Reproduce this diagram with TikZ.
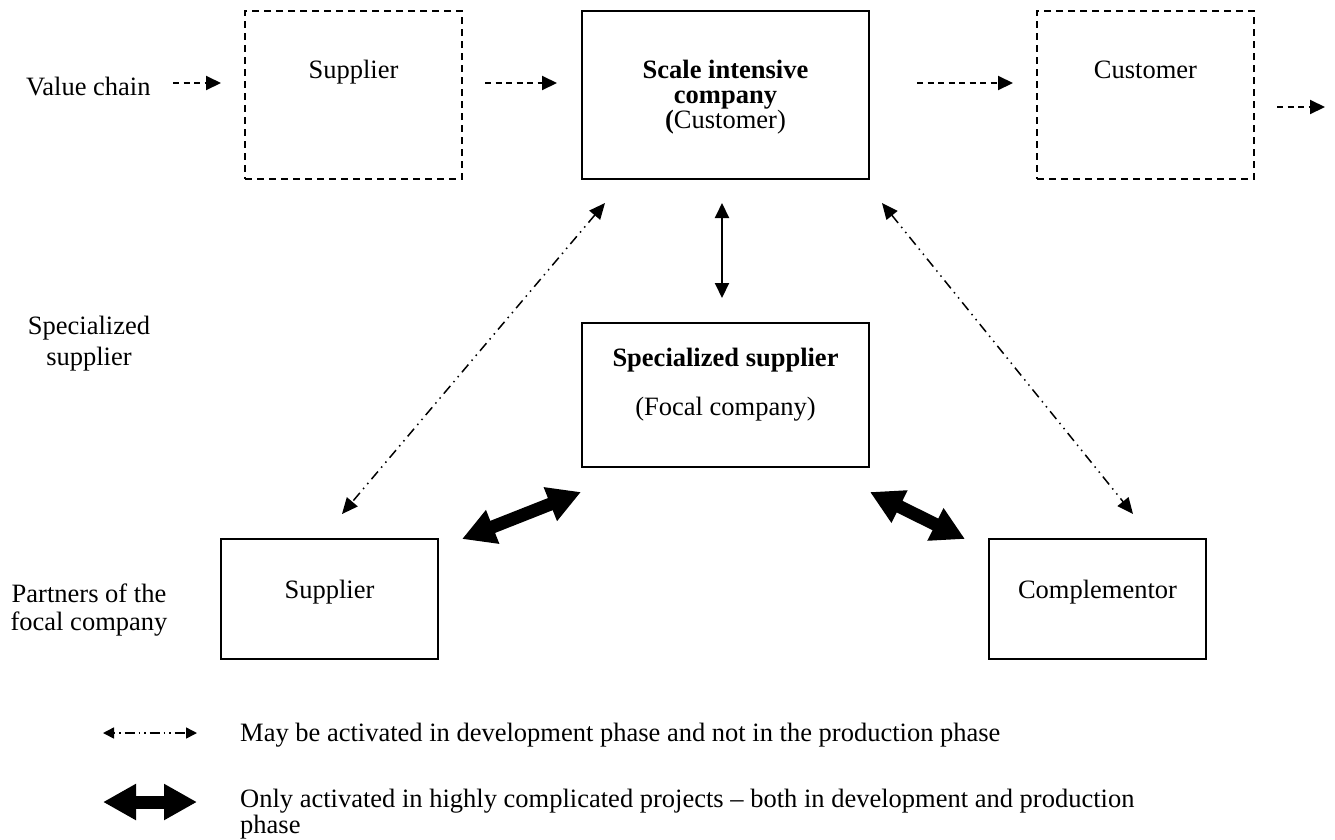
\documentclass[tikz,border=0pt]{standalone}
\usepackage{fontspec}
\setmainfont{Liberation Serif}
\usetikzlibrary{arrows.meta}
\newcommand\myfs{\fontsize{26.5pt}{30pt}\selectfont}
\begin{document}
\begin{tikzpicture}[x=1pt,y=-1pt,
  box/.style={draw, line width=2pt, inner sep=0pt},
  dbox/.style={box, dash pattern=on 7pt off 5pt},
  lbl/.style={anchor=base, inner sep=0pt, font=\myfs},
  flow/.style={line width=2pt, dash pattern=on 6pt off 4.5pt, -{Triangle[length=15pt,width=14pt]}},
  link/.style={line width=2pt, {Triangle[length=15pt,width=14pt]}-{Triangle[length=15pt,width=14pt]}},
  devlink/.style={line width=1.5pt, dash pattern=on 10pt off 5pt on 1.5pt off 5pt on 1.5pt off 5pt,
     {Triangle[length=16pt,width=14pt]}-{Triangle[length=16pt,width=14pt]}},
  strong/.style={line width=13pt, {Triangle[length=33pt,width=34pt]}-{Triangle[length=33pt,width=34pt]}}
]
\useasboundingbox (0,0) rectangle (1335,839);

% boxes
\node[dbox, minimum width=217pt, minimum height=168pt] (supT) at (353.5,95) {};
\node[box, minimum width=287pt, minimum height=168pt] (scale) at (725.5,95) {};
\node[dbox, minimum width=217pt, minimum height=168pt] (custT) at (1145.5,95) {};
\node[box, minimum width=287pt, minimum height=144pt] (spec) at (725.5,395) {};
\node[box, minimum width=217pt, minimum height=120pt] (supB) at (329.5,599) {};
\node[box, minimum width=217pt, minimum height=120pt] (comp) at (1097.5,599) {};

% texts
\node[lbl, anchor=base west] (vc) at (26,95) {Value chain};
\node[lbl] (tsup) at (353.5,78) {Supplier};
\node[lbl] (ts1) at (725.5,78) {\textbf{Scale intensive}};
\node[lbl] (ts2) at (725.5,103) {\textbf{company}};
\node[lbl] (ts3) at (725.5,128) {\textbf{(}Customer)};
\node[lbl] (tcust) at (1145.5,78) {Customer};
\node[lbl] (tsp1) at (725.5,366) {\textbf{Specialized supplier}};
\node[lbl] (tsp2) at (725.5,415) {(Focal company)};
\node[lbl] (l1a) at (89,334) {Specialized};
\node[lbl] (l1b) at (89,365) {supplier};
\node[lbl] (l2a) at (89,602) {Partners of the};
\node[lbl] (l2b) at (89,630) {focal company};
\node[lbl] (tsupB) at (329.5,598) {Supplier};
\node[lbl] (tcomp) at (1097.5,598) {Complementor};

% value chain arrows
\coordinate (f0s) at (173,83); \coordinate (f0e) at (221,83);
\coordinate (f1s) at (485,83); \coordinate (f1e) at (557,83);
\coordinate (f2s) at (917,83); \coordinate (f2e) at (1013,83);
\coordinate (f3s) at (1277,107); \coordinate (f3e) at (1325,107);
\draw[flow] (f0s) -- (f0e);
\draw[flow] (f1s) -- (f1e);
\draw[flow] (f2s) -- (f2e);
\draw[flow] (f3s) -- (f3e);

% scale <-> spec
\coordinate (v1) at (722,203); \coordinate (v2) at (722,298);
\draw[link] (v1) -- (v2);

% development-phase links
\coordinate (d1a) at (605,203); \coordinate (d1b) at (342,514);
\coordinate (d2a) at (882,203); \coordinate (d2b) at (1133,514);
\draw[devlink] (d1a) -- (d1b);
\draw[devlink] (d2a) -- (d2b);

% strong links
\coordinate (s1a) at (462,539); \coordinate (s1b) at (581,492);
\coordinate (s2a) at (870,492); \coordinate (s2b) at (965,539);
\draw[strong] (s1a) -- (s1b);
\draw[strong] (s2a) -- (s2b);

% legend
\coordinate (lg1a) at (103,733); \coordinate (lg1b) at (197,733);
\draw[line width=1.5pt, dash pattern=on 1.5pt off 4pt on 1.5pt off 4pt on 10pt off 4pt,
  {Triangle[length=11pt,width=11pt]}-{Triangle[length=11pt,width=11pt]}] (lg1a) -- (lg1b);
\node[lbl, anchor=base west] (leg1) at (240,741) {May be activated in development phase and not in the production phase};
\coordinate (lg2a) at (103,802); \coordinate (lg2b) at (197,802);
\draw[strong] (lg2a) -- (lg2b);
\node[lbl, anchor=base west] (leg2) at (240,807) {Only activated in highly complicated projects -- both in development and production};
\node[lbl, anchor=base west] (leg3) at (240,833) {phase};
\end{tikzpicture}
\end{document}
